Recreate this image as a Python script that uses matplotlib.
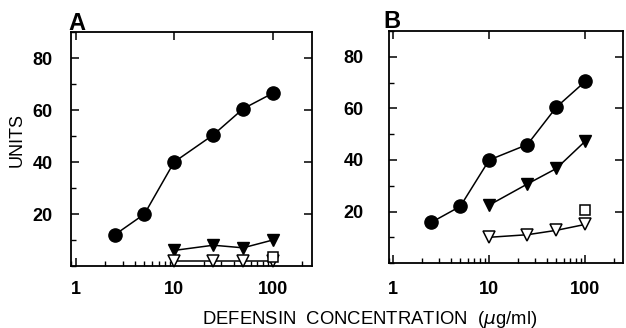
import numpy as np
import matplotlib
matplotlib.use("Agg")
import matplotlib.pyplot as plt
from matplotlib.ticker import LogLocator, NullFormatter, MultipleLocator

# concentrations (ug/ml)
conc_circ = [2.5, 5, 10, 25, 50, 100]
conc_tri = [10, 25, 50, 100]
conc_sq = [100]

# panel A
a_circ = [12, 20, 40, 50.5, 60.5, 66.5]
a_tri_filled = [6, 8, 7, 10]
a_tri_open = [1.8, 1.8, 1.8, 1.8]
a_sq = [3.5]

# panel B
b_circ = [15.8, 22, 40, 46, 60.5, 70.5]
b_tri_filled = [22.5, 30.7, 36.7, 47.3]
b_tri_open = [10, 11, 12.7, 15]
b_sq = [20.7]

xticks = [1, 10, 100]
xticklabels = ["1", "10", "100"]
yticks = [20, 40, 60, 80]

plt.rcParams['font.family'] = ['Liberation Sans', 'DejaVu Sans']

fig = plt.figure(figsize=(6.26, 3.28), dpi=100)
axA = fig.add_axes([0.1134, 0.189, 0.385, 0.713])
axB = fig.add_axes([0.621, 0.198, 0.375, 0.707])


def draw(ax, circ, trif, trio, sq, label, lx, ly, xpad, ypad):
    ax.plot(conc_circ, circ, '-o', color='black', mfc='black', ms=9.5, lw=1.1)
    ax.plot(conc_tri, trif, '-v', color='black', mfc='black', ms=8, lw=1.1)
    ax.plot(conc_tri, trio, '-v', color='black', mfc='white', ms=8, lw=1.1,
            mew=1.1, clip_on=False)
    ax.plot(conc_sq, sq, 's', color='black', mfc='white', ms=6.5, mew=1.1)
    ax.set_xscale('log')
    ax.set_xlim(0.9, 250)
    ax.set_ylim(0, 90)
    ax.set_xticks(xticks)
    ax.set_xticklabels(xticklabels)
    ax.xaxis.set_minor_locator(LogLocator(base=10, subs=np.arange(2, 10)))
    ax.xaxis.set_minor_formatter(NullFormatter())
    ax.set_yticks(yticks)
    ax.yaxis.set_minor_locator(MultipleLocator(10))
    ax.tick_params(which='major', direction='in', length=6, width=1.1,
                   top=True, right=True, labelsize=13)
    ax.tick_params(axis='x', which='major', pad=xpad)
    ax.tick_params(axis='y', which='major', pad=ypad)
    ax.tick_params(which='minor', direction='in', length=3.5, width=1,
                   top=False, right=False)
    for t in ax.get_xticklabels() + ax.get_yticklabels():
        t.set_fontweight('bold')
    for s in ax.spines.values():
        s.set_linewidth(1.3)
    ax.text(lx, ly, label, transform=ax.transAxes, fontsize=17,
            fontweight='bold', ha='left', va='baseline')


draw(axA, a_circ, a_tri_filled, a_tri_open, a_sq, "A", -0.012, 1.009, 11, 13)
draw(axB, b_circ, b_tri_filled, b_tri_open, b_sq, "B", -0.021, 1.013, 13, 18)

fig.text(0.027, 1 - 140 / 328, "UNITS", rotation=90, ha='center',
         va='center', fontsize=13)
fig.text(0.59, 1 - 319 / 328, "DEFENSIN  CONCENTRATION  ($\\mu$g/ml)",
         ha='center', va='center', fontsize=13.3)

fig.savefig("out.png", dpi=100)
